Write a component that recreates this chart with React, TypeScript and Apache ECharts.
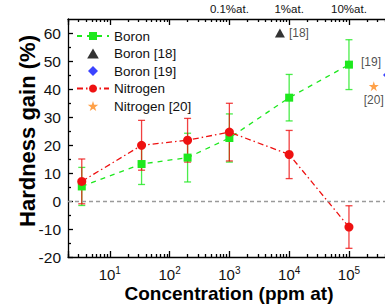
import React, { useEffect, useRef } from "react";
import * as echarts from "echarts";

// ---- data ----
const PPM = [3.4, 34, 200, 1000, 10000, 100000];
const BORON = [5.2, 13.2, 15.5, 22.5, 36.9, 48.7];
const BORON_ERR = [6.8, 7.3, 8.7, 8.6, 8.3, 8.9];
const NITROGEN = [7.0, 19.9, 21.7, 24.6, 16.6, -9.3];
const NITROGEN_ERR = [8.0, 8.9, 7.8, 10.3, 8.6, 7.6];
const BORON_18 = [[7000, 60.0]];
const BORON_19 = [[450000, 45.0]];
const NITROGEN_20 = [[260000, 41.0]];
const TOP_LABELS: Record<number, string> = { 3: "0.1%at.", 4: "1%at.", 5: "10%at." };
const BOTTOM_EXPONENTS = [1, 2, 3, 4, 5];
const MINOR_MULTIPLIERS = [2, 3, 4, 5, 6, 7, 8, 9];
const DECADES = [0, 1, 2, 3, 4, 5];
const Y_MINOR = [-15, -5, 5, 15, 25, 35, 45, 55];

const X_MIN = 2;
const X_MAX = 1e6;
const FONT = "'Liberation Sans', Arial, Helvetica, sans-serif";
const GREEN = "#1ee81e";
const RED = "#ee1111";
const BLUE = "#0a14ff";
const ORANGE = "#ff8a1c";
const STAR =
  "path://M50,0 L61.2,34.5 L97.6,34.5 L68.2,55.9 L79.4,90.5 L50,69.1 L20.6,90.5 L31.8,55.9 L2.4,34.5 L38.8,34.5 Z";
const TRIANGLE = "path://M5,0 L10,8.6 L0,8.6 Z";
const DIAMOND = "path://M5,0 L10,5 L5,10 L0,5 Z";

const minorLog: number[] = [];
DECADES.forEach((d) =>
  MINOR_MULTIPLIERS.forEach((m) => {
    const v = m * Math.pow(10, d);
    if (v >= X_MIN && v <= X_MAX) minorLog.push(Math.log10(v));
  })
);

const errorSeries = (name: string, ys: number[], errs: number[], color: string, z: number) => ({
  type: "custom",
  name,
  z,
  silent: true,
  xAxisIndex: 0,
  yAxisIndex: 0,
  data: PPM.map((x, i) => [x, ys[i], errs[i]]),
  encode: { x: 0, y: 1 },
  renderItem: (_p: any, api: any) => {
    const x = api.value(0);
    const y = api.value(1);
    const e = api.value(2);
    const t = api.coord([x, y + e]);
    const b = api.coord([x, y - e]);
    const hw = 3.5;
    const st = { stroke: color, lineWidth: 1.3, opacity: 0.8 };
    return {
      type: "group",
      children: [
        { type: "line", shape: { x1: t[0], y1: t[1], x2: b[0], y2: b[1] }, style: st },
        { type: "line", shape: { x1: t[0] - hw, y1: t[1], x2: t[0] + hw, y2: t[1] }, style: st },
        { type: "line", shape: { x1: b[0] - hw, y1: b[1], x2: b[0] + hw, y2: b[1] }, style: st },
      ],
    };
  },
});

export default function App() {
  const ref = useRef<HTMLDivElement>(null);
  useEffect(() => {
    if (!ref.current) return;
    const chart = echarts.init(ref.current, undefined, { renderer: "svg" });
    const axisLineStyle = { color: "#000", width: 1.3 };
    chart.setOption({
      animation: false,
      backgroundColor: "#fff",
      textStyle: { fontFamily: FONT },
      grid: {
        left: 68,
        top: 19,
        bottom: 50,
        right: -23.75,
        containLabel: false,
        outerBoundsMode: "none",
      },
      legend: {
        data: ["Boron", "Boron [18]", "Boron [19]", "Nitrogen", "Nitrogen [20]"],
        orient: "vertical",
        left: 71,
        top: 24,
        itemWidth: 32,
        itemHeight: 10,
        itemGap: 3.5,
        symbolKeepAspect: true,
        textStyle: { fontSize: 13.5, color: "#111", fontFamily: FONT, lineHeight: 14 },
        selectedMode: false,
      },
      xAxis: [
        {
          type: "log",
          logBase: 10,
          min: X_MIN,
          max: X_MAX,
          position: "bottom",
          axisLine: { show: true, onZero: false, lineStyle: axisLineStyle },
          axisTick: { show: true, inside: true, length: 6, lineStyle: axisLineStyle },
          splitLine: { show: false },
          axisLabel: {
            margin: 8,
            color: "#111",
            fontSize: 15,
            formatter: (v: number) => {
              const e = Math.round(Math.log10(v));
              if (Math.abs(Math.log10(v) - e) > 1e-6 || BOTTOM_EXPONENTS.indexOf(e) < 0) return "";
              return `10{sup|${e}}`;
            },
            rich: { sup: { fontSize: 10, padding: [0, 0, 8, 0], color: "#111" } },
          },
        },
        {
          type: "value",
          min: Math.log10(X_MIN),
          max: Math.log10(X_MAX),
          position: "bottom",
          axisLine: { show: false, onZero: false },
          axisTick: { show: true, inside: true, length: 3, customValues: minorLog, lineStyle: axisLineStyle },
          axisLabel: { show: false },
          splitLine: { show: false },
        },
        {
          type: "log",
          logBase: 10,
          min: X_MIN,
          max: X_MAX,
          position: "top",
          axisLine: { show: true, onZero: false, lineStyle: axisLineStyle },
          axisTick: { show: true, inside: true, length: 6, lineStyle: axisLineStyle },
          splitLine: { show: false },
          axisLabel: {
            margin: 4,
            color: "#111",
            fontSize: 11.5,
            formatter: (v: number) => {
              const e = Math.round(Math.log10(v));
              if (Math.abs(Math.log10(v) - e) > 1e-6) return "";
              return TOP_LABELS[e] || "";
            },
          },
        },
        {
          type: "value",
          min: Math.log10(X_MIN),
          max: Math.log10(X_MAX),
          position: "top",
          axisLine: { show: false, onZero: false },
          axisTick: { show: true, inside: true, length: 3, customValues: minorLog, lineStyle: axisLineStyle },
          axisLabel: { show: false },
          splitLine: { show: false },
        },
      ],
      yAxis: [
        {
          type: "value",
          min: -20,
          max: 65,
          interval: 10,
          position: "left",
          axisLine: { show: true, onZero: false, lineStyle: axisLineStyle },
          axisTick: { show: true, inside: true, length: 5, lineStyle: axisLineStyle },
          splitLine: { show: false },
          axisLabel: { margin: 7, color: "#111", fontSize: 15.5, showMaxLabel: false },
        },
        {
          type: "value",
          min: -20,
          max: 65,
          position: "left",
          axisLine: { show: false, onZero: false },
          axisTick: { show: true, inside: true, length: 3, customValues: Y_MINOR, lineStyle: axisLineStyle },
          axisLabel: { show: false },
          splitLine: { show: false },
        },
      ],
      graphic: [
        {
          type: "text",
          x: 229,
          y: 293,
          style: {
            text: "Concentration (ppm at)",
            font: `bold 19px ${FONT}`,
            fill: "#000",
            align: "center",
            verticalAlign: "middle",
          },
        },
        {
          type: "text",
          x: 27,
          y: 131,
          rotation: Math.PI / 2,
          style: {
            text: "Hardness gain (%)",
            font: `bold 22px ${FONT}`,
            fill: "#000",
            align: "center",
            verticalAlign: "middle",
          },
        },
      ],
      series: [
        {
          type: "line",
          name: "Boron",
          z: 3,
          data: PPM.map((x, i) => [x, BORON[i]]),
          symbol: "rect",
          symbolSize: 8,
          itemStyle: { color: GREEN },
          lineStyle: { color: GREEN, width: 1.3, type: [5, 5] },
          markLine: {
            silent: true,
            symbol: ["none", "none"],
            label: { show: false },
            lineStyle: { color: "#9a9a9a", type: [4, 3], width: 1.3 },
            data: [{ yAxis: 0 }],
          },
        },
        {
          type: "line",
          name: "Nitrogen",
          z: 3,
          data: PPM.map((x, i) => [x, NITROGEN[i]]),
          symbol: "circle",
          symbolSize: 9,
          itemStyle: { color: RED },
          lineStyle: { color: RED, width: 1.3, type: [6, 3, 1.5, 3] },
        },
        errorSeries("bErr", BORON, BORON_ERR, GREEN, 2),
        errorSeries("nErr", NITROGEN, NITROGEN_ERR, RED, 2),
        {
          type: "scatter",
          name: "Boron [18]",
          data: BORON_18,
          symbol: TRIANGLE,
          symbolSize: [10, 9],
          itemStyle: { color: "#000" },
          label: { show: true, position: "right", distance: 4, formatter: "[18]", fontSize: 12, color: "#222" },
        },
        {
          type: "scatter",
          name: "Boron [19]",
          data: BORON_19,
          symbol: DIAMOND,
          symbolSize: 10,
          itemStyle: { color: BLUE },
          label: { show: true, position: "inside", offset: [-17, -13], formatter: "[19]", fontSize: 12, color: "#222" },
        },
        {
          type: "scatter",
          name: "Nitrogen [20]",
          data: NITROGEN_20,
          symbol: STAR,
          symbolSize: 10,
          itemStyle: { color: ORANGE },
          label: { show: true, position: "bottom", distance: 3, formatter: "[20]", fontSize: 12, color: "#222" },
        },
      ],
    });
    return () => chart.dispose();
  }, []);
  return (
    <div
      ref={ref}
      style={{ position: "fixed", left: 0, top: 0, width: 385, height: 307, background: "#fff" }}
    />
  );
}
